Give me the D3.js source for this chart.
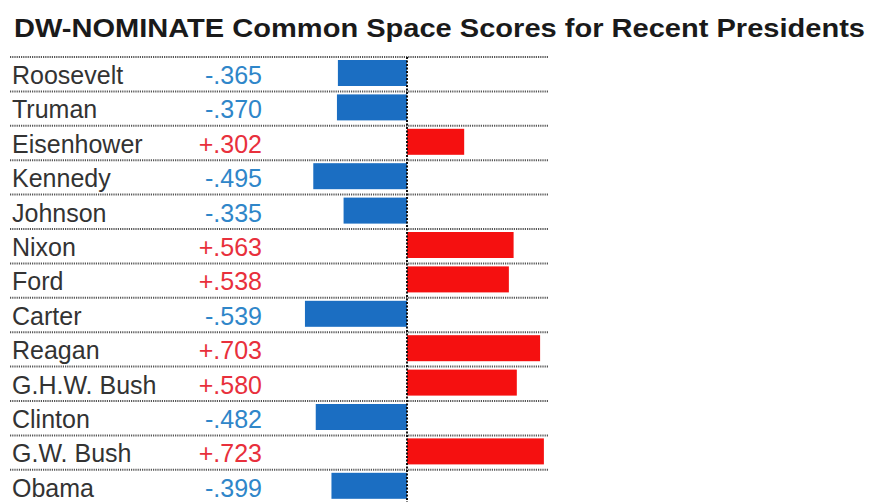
<!DOCTYPE html>
<html>
<head>
<meta charset="utf-8">
<script src="https://cdn.jsdelivr.net/npm/d3@7"></script>
<style>
  html, body { margin: 0; padding: 0; background: #fff; }
  svg { display: block; }
</style>
</head>
<body>
<svg id="chart" width="873" height="502"></svg>
<script>
// Presidents and their DW-NOMINATE common space scores
const presidents = ["Roosevelt", "Truman", "Eisenhower", "Kennedy", "Johnson", "Nixon", "Ford",
                    "Carter", "Reagan", "G.H.W. Bush", "Clinton", "G.W. Bush", "Obama"];
const scores = [-0.365, -0.370, 0.302, -0.495, -0.335, 0.563, 0.538,
                -0.539, 0.703, 0.580, -0.482, 0.723, -0.399];
const titleText = "DW-NOMINATE Common Space Scores for Recent Presidents";

const rows = presidents.map((name, i) => ({ name, score: scores[i] }));

const svg = d3.select("#chart");
const font = "Arial, 'Liberation Sans', sans-serif";

const rowH = 34.4;
const tableTop = 57;

const x = d3.scaleLinear().domain([-0.75, 0.75]).range([265, 549]);
const y = d3.scaleBand().domain(presidents)
  .range([tableTop, tableTop + rowH * presidents.length])
  .paddingInner(0).paddingOuter(0);

const blueBar = "#1b6ec2", redBar = "#f51010";
const blueText = "#2f86c9", redText = "#e8303c";

// Title, stretched across the full width
svg.append("text")
  .attr("x", 14).attr("y", 37)
  .attr("font-family", font).attr("font-weight", "bold").attr("font-size", 26)
  .attr("fill", "#1a1a1a")
  .attr("textLength", 851).attr("lengthAdjust", "spacingAndGlyphs")
  .text(titleText);

// Dotted row separators
const seps = presidents.map(p => y(p));
svg.append("g").selectAll("line").data(seps).join("line")
  .attr("x1", 10).attr("x2", 548)
  .attr("y1", d => d).attr("y2", d => d)
  .attr("stroke", "#555").attr("stroke-width", 2)
  .attr("stroke-dasharray", "1.2,1");

// Bars
svg.append("g").selectAll("rect").data(rows).join("rect")
  .attr("x", d => Math.min(x(0), x(d.score)))
  .attr("width", d => Math.abs(x(d.score) - x(0)))
  .attr("y", d => y(d.name) + 3)
  .attr("height", 26)
  .attr("fill", d => d.score < 0 ? blueBar : redBar);

// Zero line
svg.append("line")
  .attr("x1", x(0)).attr("x2", x(0))
  .attr("y1", tableTop).attr("y2", 502)
  .attr("stroke", "#111").attr("stroke-width", 2)
  .attr("stroke-dasharray", "2,1.5");

// Names
svg.append("g").selectAll("text").data(rows).join("text")
  .attr("x", 12).attr("y", d => y(d.name) + 27)
  .attr("font-family", font).attr("font-size", 25)
  .attr("fill", "#333")
  .text(d => d.name);

// Score labels
const fmt = v => (v < 0 ? "-" : "+") + Math.abs(v).toFixed(3).slice(1);
svg.append("g").selectAll("text").data(rows).join("text")
  .attr("x", 262).attr("y", d => y(d.name) + 27)
  .attr("text-anchor", "end")
  .attr("font-family", font).attr("font-size", 25)
  .attr("fill", d => d.score < 0 ? blueText : redText)
  .text(d => fmt(d.score));
</script>
</body>
</html>
